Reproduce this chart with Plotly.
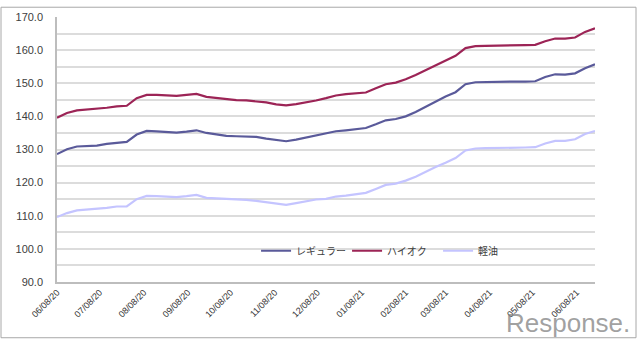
import plotly.graph_objects as go

dates = [
    "2020-06-08", "2020-06-15", "2020-06-22", "2020-06-29", "2020-07-06", "2020-07-13",
    "2020-07-20", "2020-07-27", "2020-08-03", "2020-08-10", "2020-08-17", "2020-08-24",
    "2020-08-31", "2020-09-07", "2020-09-14", "2020-09-21", "2020-09-28", "2020-10-05",
    "2020-10-12", "2020-10-19", "2020-10-26", "2020-11-02", "2020-11-09", "2020-11-16",
    "2020-11-23", "2020-11-30", "2020-12-07", "2020-12-14", "2020-12-21", "2020-12-28",
    "2021-01-04", "2021-01-11", "2021-01-18", "2021-01-25", "2021-02-01", "2021-02-08",
    "2021-02-15", "2021-02-22", "2021-03-01", "2021-03-08", "2021-03-15", "2021-03-22",
    "2021-03-29", "2021-04-05", "2021-04-12", "2021-04-19", "2021-04-26", "2021-05-03",
    "2021-05-10", "2021-05-17", "2021-05-24", "2021-05-31", "2021-06-07", "2021-06-14",
    "2021-06-21",
]

regular = [
    128.6, 130.1, 130.9, 131.1, 131.2, 131.7, 132.1, 132.3, 134.5, 135.6,
    135.5, 135.3, 135.1, 135.4, 135.8, 135.0, 134.6, 134.1, 134.0, 134.0,
    133.8, 133.3, 132.8, 132.5, 133.0, 133.6, 134.3, 134.7, 135.5, 135.8,
    136.1, 136.5, 137.6, 138.8, 139.2, 140.0, 141.3, 142.9, 144.5, 146.0,
    147.3, 149.7, 150.3, 150.4, 150.4, 150.5, 150.5, 150.5, 150.6, 151.9,
    152.7, 152.6, 153.0, 154.5, 155.7,
]

high_octane = [
    139.6, 141.0, 141.8, 142.0, 142.2, 142.6, 143.0, 143.2, 145.5, 146.5,
    146.5, 146.3, 146.2, 146.5, 146.8, 145.9, 145.5, 145.1, 144.9, 144.8,
    144.6, 144.2, 143.6, 143.3, 143.7, 144.2, 144.8, 145.5, 146.3, 146.7,
    147.0, 147.2, 148.5, 149.7, 150.2, 151.2, 152.5, 153.9, 155.4, 156.8,
    158.3, 160.6, 161.2, 161.3, 161.3, 161.3, 161.4, 161.5, 161.6, 162.7,
    163.5, 163.5, 163.8, 165.5, 166.6,
]

diesel = [
    109.6, 110.8, 111.6, 111.8, 112.1, 112.4, 112.8, 112.8, 115.0, 116.0,
    115.9, 115.7, 115.6, 115.9, 116.3, 115.4, 115.3, 115.0, 114.9, 114.8,
    114.5, 114.1, 113.6, 113.3, 113.8, 114.4, 114.9, 115.1, 115.8, 116.1,
    116.5, 116.9, 118.1, 119.3, 119.7, 120.6, 121.8, 123.3, 124.7, 126.0,
    127.4, 129.7, 130.3, 130.4, 130.4, 130.5, 130.6, 130.6, 130.7, 131.8,
    132.6, 132.6, 133.1, 134.7, 135.6,
]

series_names = ["レギュラー", "ハイオク", "軽油"]
series_colors = ["#5a5a9a", "#9c2456", "#c4c4ff"]

tick_dates = [
    "2020-06-08", "2020-07-08", "2020-08-08", "2020-09-08", "2020-10-08", "2020-11-08",
    "2020-12-08", "2021-01-08", "2021-02-08", "2021-03-08", "2021-04-08", "2021-05-08",
    "2021-06-08",
]

W, H = 640, 342
L, R, T, B = 57, 45, 11, 60
pw, ph = W - L - R, H - T - B

fig = go.Figure()
for name, vals, col in zip(series_names, [regular, high_octane, diesel], series_colors):
    fig.add_trace(go.Scatter(x=dates, y=vals, mode="lines", name=name,
                             line=dict(color=col, width=2.2)))

fig.update_layout(
    width=W, height=H,
    margin=dict(l=L, r=R, t=T, b=B, pad=0),
    paper_bgcolor="white", plot_bgcolor="white",
    font=dict(family="Liberation Sans, Arial, sans-serif", color="#404040", size=11),
    showlegend=True,
    legend=dict(orientation="h", x=0.37, xanchor="left", y=0.118, yanchor="middle",
                bgcolor="rgba(0,0,0,0)",
                font=dict(family="Noto Sans CJK JP, sans-serif", size=10, color="#404040"),
                entrywidth=46, entrywidthmode="pixels", itemwidth=30),
    xaxis=dict(
        type="date", range=[dates[0], dates[-1]],
        tickvals=tick_dates, tickformat="%m/%d/%y", tickangle=-45,
        tickfont=dict(size=9, color="#333333"),
        showgrid=False, showline=True, linecolor="#bdbdbd", linewidth=1.5,
        ticks="", zeroline=False,
    ),
    yaxis=dict(
        range=[90, 170], dtick=10, tick0=90, tickformat=".1f",
        tickfont=dict(size=11, color="#404040"),
        showgrid=True, gridcolor="#dcdcdc", gridwidth=1.5,
        minor=dict(dtick=5, showgrid=True, gridcolor="#dcdcdc", gridwidth=1.5),
        showline=True, linecolor="#bdbdbd", linewidth=1.5,
        ticks="", ticklabelstandoff=10, zeroline=False,
    ),
)

# outer frame
fig.add_shape(type="rect", xref="paper", yref="paper",
              x0=(1 - L) / pw, x1=(636 - L) / pw,
              y0=(H - 339 - B) / ph, y1=(H - 1 - B) / ph,
              line=dict(color="#a8a8a8", width=1), fillcolor="rgba(0,0,0,0)", layer="below")

# watermark
fig.add_annotation(text="Response.", xref="paper", yref="paper",
                   x=(632 - L) / pw, y=(H - 324 - B) / ph, xanchor="right", yanchor="middle",
                   showarrow=False,
                   font=dict(family="Liberation Sans, Arial, sans-serif", size=26, color="rgba(130,130,130,0.75)"))

fig.write_html("out.html")
